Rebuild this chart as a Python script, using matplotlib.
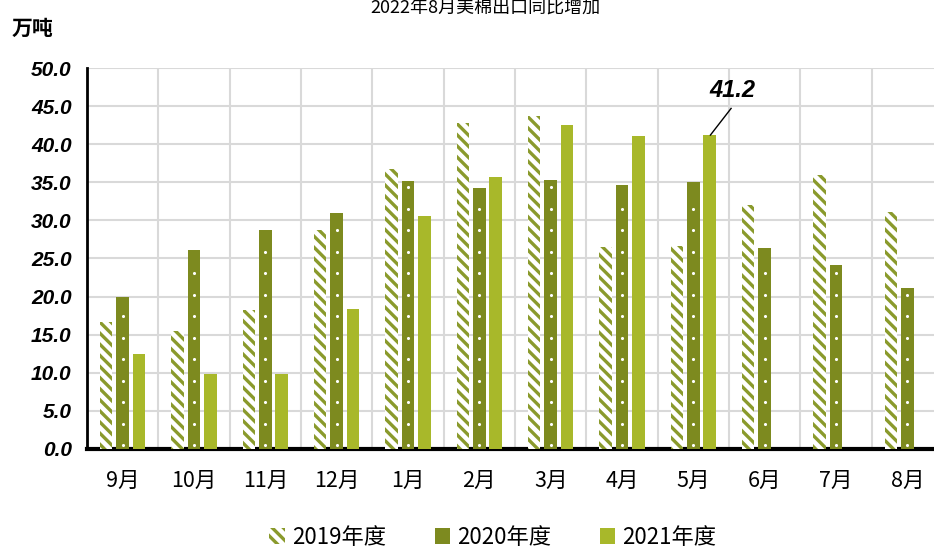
import matplotlib.pyplot as plt
import numpy as np

plt.rcParams['font.family'] = ['Liberation Sans', 'Noto Sans CJK SC', 'DejaVu Sans']
plt.rcParams['hatch.linewidth'] = 2.4

months = ['9月', '10月', '11月', '12月', '1月', '2月', '3月', '4月', '5月', '6月', '7月', '8月']
y2019 = [16.6, 15.5, 18.2, 28.8, 36.7, 42.8, 43.7, 26.5, 26.7, 32.0, 35.9, 31.1]
y2020 = [20.0, 26.1, 28.8, 31.0, 35.2, 34.3, 35.3, 34.6, 35.1, 26.4, 24.1, 21.1]
y2021 = [12.4, 9.8, 9.8, 18.4, 30.6, 35.7, 42.5, 41.1, 41.2]
series_names = ['2019年度', '2020年度', '2021年度']

c2019 = '#8a9a2c'
c2020 = '#7d8a1f'
c2021 = '#a8b82a'

fig = plt.figure(figsize=(9.34, 5.48), dpi=100)
ax = fig.add_axes([0.0931, 0.1807, 0.9165, 0.6952])

x = np.arange(len(months))
w = 0.175
step = 0.23

ax.bar(x - step, y2019, w, facecolor='white', edgecolor=c2019, hatch='\\\\\\', linewidth=0, label=series_names[0], zorder=3)
ax.bar(x, y2020, w, color=c2020, label=series_names[1], zorder=3)
ax.bar(x[:len(y2021)] + step, y2021, w, color=c2021, label=series_names[2], zorder=3)

# white dots on the 2020 bars
for xi, v in zip(x, y2020):
    dots = np.arange(0.5, v - 0.8, 2.82)
    ax.scatter(np.full(len(dots), xi), dots, s=5, color='white', zorder=4, linewidths=0)

ax.set_xlim(-0.5, len(months) - 0.5)
ax.set_ylim(0, 50)
ax.set_yticks(np.arange(0, 50.1, 5))
ax.set_yticklabels([f'{v:.1f}' for v in np.arange(0, 50.1, 5)], fontsize=15, fontweight='bold', fontstyle='italic')
ax.set_xticks(x)
ax.set_xticklabels(months, fontsize=15.5, family=['Noto Sans CJK SC'])
ax.set_xticks(np.arange(-0.5, len(months), 1), minor=True)
ax.tick_params(axis='y', length=0, pad=11)
ax.tick_params(axis='x', which='both', length=0, pad=15)
ax.grid(axis='y', color='#d9d9d9', linewidth=1.5, zorder=0)
ax.grid(axis='x', which='minor', color='#d9d9d9', linewidth=1.5, zorder=0)
ax.grid(axis='x', which='major', visible=False)
for s in ['top', 'right']:
    ax.spines[s].set_visible(False)
ax.spines['left'].set_linewidth(2)
ax.spines['bottom'].set_linewidth(3)

# label for the 5月 2021 bar
lab_x = 8 + step
lab_v = y2021[8]
ax.plot([lab_x + 0.01, lab_x + 0.3], [lab_v, lab_v + 3.5], color='black', lw=1, zorder=5)
ax.text(lab_x + 0.32, lab_v + 5.9, f'{lab_v:.1f}', fontsize=17, fontweight='bold', fontstyle='italic',
        ha='center', va='center')

fig.text(0.012, 0.948, '万吨', fontsize=15, fontweight='bold', family=['Noto Sans CJK SC'], ha='left', va='center')
fig.text(0.52, 1.0, '2022年8月美棉出口同比增加', fontsize=13, family=['Noto Sans CJK SC'], ha='center', va='top')

ax.legend(loc='center', bbox_to_anchor=(0.474, -0.232), ncol=3, frameon=False,
          prop={'family': ['Noto Sans CJK SC'], 'size': 16}, handlelength=0.7, handleheight=0.7,
          handletextpad=0.3, columnspacing=2.2)

fig.savefig('out.png', dpi=100)
